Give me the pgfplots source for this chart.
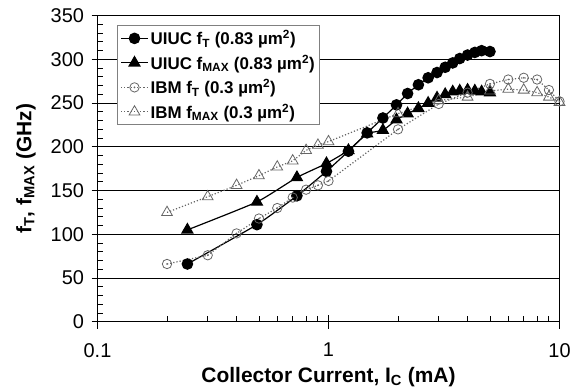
\documentclass[border=0pt]{standalone}
\usepackage{pgfplots}
\pgfplotsset{compat=1.18}
\usepackage{fontspec}
\setmainfont{Liberation Sans}
\pgfdeclareplotmark{odot}{%
  \pgfpathcircle{\pgfpointorigin}{\pgfplotmarksize}\pgfusepathqstroke
  \pgfpathcircle{\pgfpointorigin}{0.2\pgfplotmarksize}\pgfusepathqfill}
\definecolor{ibmgray}{gray}{0.4}
\begin{document}
\begin{tikzpicture}
\useasboundingbox (-97.5bp,-67bp) rectangle (481.5bp,321.7bp);
\begin{axis}[
  at={(0,0)}, anchor=south west, scale only axis,
  width=462bp, height=306bp,
  xmode=log, xmin=0.1, xmax=10, ymin=0, ymax=350,
  xtick={0.1,1,10}, xticklabels={0.1,1,10},
  ytick={0,50,...,350},
  minor y tick num=4,
  tick align=inside, major tick length=6.5bp, minor tick length=6bp,
  xtick pos=bottom, ytick pos=left,
  extra x ticks={0.1,1,10}, extra x tick labels={\empty,\empty,\empty},
  extra x tick style={tick align=outside, major tick length=7bp},
  extra y ticks={0,50,...,350}, extra y tick labels={\empty,\empty,\empty,\empty,\empty,\empty,\empty,\empty},
  extra y tick style={tick align=outside, major tick length=6bp},
  ymajorgrids, grid style={black, line width=0.8bp},
  axis line style={black, line width=1bp},
  tick style={black, line width=0.9bp},
  /pgf/number format/assume math mode=true,
  ticklabel style={font=\fontsize{20}{23}\selectfont},
  xticklabel style={yshift=-18bp},
  yticklabel style={xshift=-10bp},
  xlabel={\textbf{Collector Current, I\textsubscript{C} (mA)}},
  ylabel={\textbf{f\textsubscript{T}, f\textsubscript{MAX} (GHz)}},
  label style={font=\fontsize{21}{24}\selectfont},
  xlabel style={at={(axis description cs:0.5,-0.18)}, anchor=center},
  ylabel style={at={(axis description cs:-0.155,0.5)}, anchor=center},
  legend cell align=left,
  legend style={at={(0.042,0.97)}, anchor=north west, draw=gray, line width=1bp,
    font=\bfseries\fontsize{17}{19}\selectfont, inner xsep=3bp, inner ysep=3bp,
    row sep=4.5bp, fill=white},
  legend image code/.code={%
    \draw[#1] (0bp,0bp) -- (27bp,0bp);
    \draw[#1, only marks] plot coordinates {(13.5bp,0bp)};},
]
\addplot[black, line width=1.2bp, mark=*, mark size=5.2bp, smooth, tension=0.3] coordinates {
(0.245,66) (0.49,111) (0.73,144) (0.98,172) (1.22,195) (1.47,216) (1.72,233)
(1.97,248) (2.2,261) (2.45,271) (2.7,279) (2.95,285) (3.2,291) (3.45,296)
(3.7,301) (4.0,305) (4.3,308) (4.6,310) (5.0,309)};
\addlegendentry{UIUC f\textsubscript{T} (0.83 µm\textsuperscript{2})}
\addplot[black, line width=1.2bp, mark=triangle*, mark size=6.2bp, smooth, tension=0.3] coordinates {
(0.245,105) (0.49,137) (0.73,165) (0.98,181) (1.22,196) (1.47,215) (1.72,219)
(1.97,231) (2.2,238) (2.45,244) (2.7,250) (2.95,256) (3.2,260) (3.45,263)
(3.7,264) (4.0,265) (4.3,264) (4.6,263) (5.0,262)};
\addlegendentry{UIUC f\textsubscript{MAX} (0.83 µm\textsuperscript{2})}
\addplot[ibmgray, line width=1.2bp, dotted, mark=odot, mark size=4.7bp,
  mark options={solid, line width=0.8bp}] coordinates {
(0.2,66) (0.3,76) (0.4,101) (0.5,118) (0.6,130) (0.7,142) (0.8,151) (0.9,156)
(1.0,161) (2.0,220) (3.0,249) (4.0,262) (5.0,272) (6.0,277) (7.0,279) (8.0,277)
(9.0,265) (10,252)};
\addlegendentry{IBM f\textsubscript{T} (0.3 µm\textsuperscript{2})}
\addplot[ibmgray, line width=1.2bp, dotted, mark=triangle, mark size=6.2bp,
  mark options={solid, line width=0.8bp}] coordinates {
(0.2,125) (0.3,143) (0.4,156) (0.5,167) (0.6,177) (0.7,184) (0.8,196) (0.9,202)
(1.0,206) (2.0,238) (3.0,253) (4.0,257) (5.0,264) (6.0,266) (7.0,265) (8.0,262)
(9.0,257) (10,251)};
\addlegendentry{IBM f\textsubscript{MAX} (0.3 µm\textsuperscript{2})}
\end{axis}
\end{tikzpicture}
\end{document}
